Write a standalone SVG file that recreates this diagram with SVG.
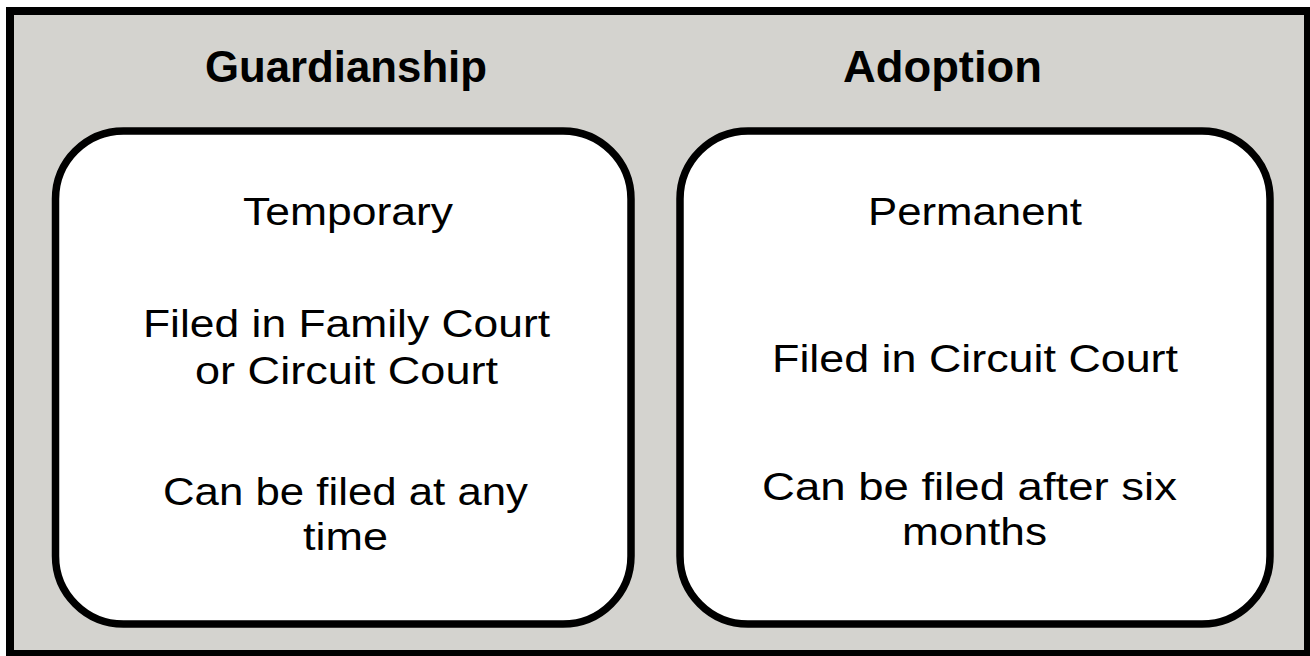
<svg xmlns="http://www.w3.org/2000/svg" width="1310" height="656" viewBox="0 0 1310 656">
<style>
.frame{fill:#d4d3cf;stroke:#000;stroke-width:8}
.box{fill:#fff;stroke:#000;stroke-width:7.5}
.title{font-family:"Liberation Sans",Arial,sans-serif;font-weight:bold;font-size:44px;fill:#000;text-anchor:middle}
.body{font-family:"Liberation Sans",Arial,sans-serif;font-size:38px;fill:#000;text-anchor:middle}
</style>
<rect class="frame" x="10" y="11" width="1298" height="643"/>
<g id="guardianship">
<text class="title" x="346" y="82" textLength="282" lengthAdjust="spacingAndGlyphs">Guardianship</text>
<rect class="box" x="55.5" y="131" width="575.5" height="493" rx="68" ry="68"/>
<text class="body" x="348" y="225" textLength="210" lengthAdjust="spacingAndGlyphs">Temporary</text>
<text class="body" x="346.5" y="337" textLength="407" lengthAdjust="spacingAndGlyphs">Filed in Family Court</text>
<text class="body" x="346.5" y="384" textLength="303" lengthAdjust="spacingAndGlyphs">or Circuit Court</text>
<text class="body" x="345.5" y="505" textLength="365" lengthAdjust="spacingAndGlyphs">Can be filed at any</text>
<text class="body" x="345.5" y="550" textLength="85" lengthAdjust="spacingAndGlyphs">time</text>
</g>
<g id="adoption">
<text class="title" x="942.5" y="82" textLength="199" lengthAdjust="spacingAndGlyphs">Adoption</text>
<rect class="box" x="680" y="131" width="590" height="493" rx="68" ry="68"/>
<text class="body" x="975" y="225" textLength="214" lengthAdjust="spacingAndGlyphs">Permanent</text>
<text class="body" x="975" y="372" textLength="406" lengthAdjust="spacingAndGlyphs">Filed in Circuit Court</text>
<text class="body" x="969.5" y="500" textLength="415" lengthAdjust="spacingAndGlyphs">Can be filed after six</text>
<text class="body" x="974.5" y="545" textLength="145" lengthAdjust="spacingAndGlyphs">months</text>
</g>
</svg>
